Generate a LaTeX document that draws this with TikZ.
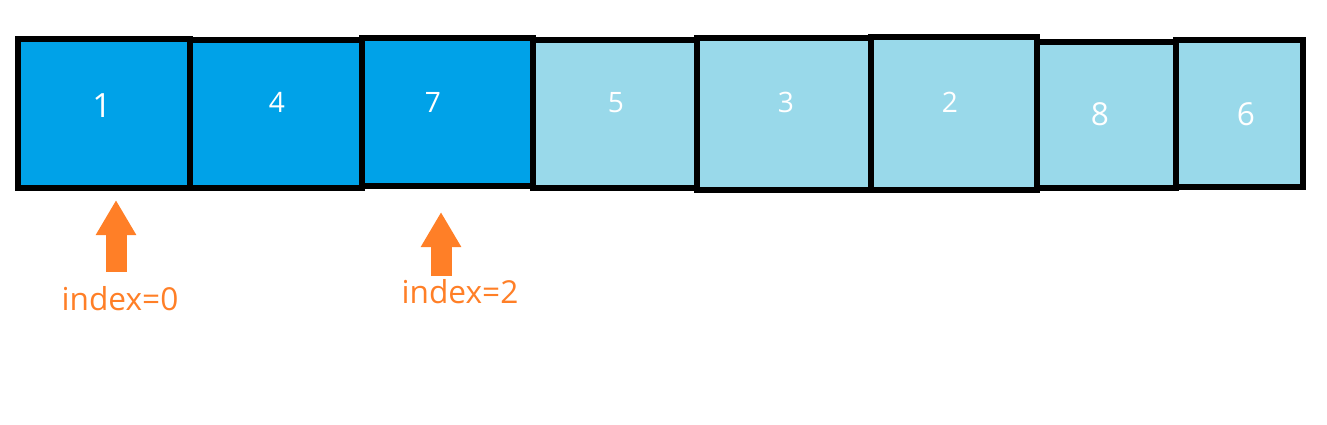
\documentclass[tikz,border=0pt]{standalone}
\usepackage{fontspec}
\setmainfont{Open Sans}
\usetikzlibrary{arrows.meta}
\definecolor{pieno}{HTML}{00A2E8}
\definecolor{vuoto}{HTML}{99D9EA}
\definecolor{arancio}{HTML}{FF7F27}
\begin{document}
\begin{tikzpicture}[x=0.02cm, y=-0.02cm,
    cella/.style={draw=black, line width=0.12cm},
    valore/.style={anchor=base, text=white, font=\fontsize{16}{18}\selectfont},
    indice/.style={anchor=base, text=arancio, font=\fontsize{18}{20}\selectfont},
    freccia/.style={draw=arancio, line width=0.42cm, -{Triangle[width=0.76cm, length=0.7cm]}}]
    \useasboundingbox (0,0) rectangle (1327,424);

    % Celle
    \foreach \sx/\dx/\su/\giu/\col in {18/190/39/188/pieno, 190/362/40/188/pieno,
        362/533/38/186/pieno, 533/697/40/188/vuoto, 697/871/38/190/vuoto,
        871/1037/37/190/vuoto, 1037/1176/42/188/vuoto, 1176/1303/40/187/vuoto}
        \draw[cella, fill=\col] (\sx,\su) rectangle (\dx,\giu);

    % Valori
    \node[valore, font=\fontsize{19}{21}\selectfont] (v1) at (102,117) {1};
    \node[valore] (v2) at (277,112) {4};
    \node[valore] (v3) at (433,112) {7};
    \node[valore] (v4) at (616,112) {5};
    \node[valore] (v5) at (786,112) {3};
    \node[valore] (v6) at (950,112) {2};
    \node[valore, font=\fontsize{18}{20}\selectfont] (v7) at (1100,125) {8};
    \node[valore, font=\fontsize{18}{20}\selectfont] (v8) at (1246,125) {6};

    % Frecce e indici
    \coordinate (p0) at (116,272);
    \coordinate (t0) at (116,200);
    \draw[freccia] (p0) -- (t0);
    \node[indice] (idx0) at (120,310) {index=0};

    \coordinate (p2) at (441,276);
    \coordinate (t2) at (441,212);
    \draw[freccia] (p2) -- (t2);
    \node[indice] (idx2) at (460,303) {index=2};

\end{tikzpicture}
\end{document}
